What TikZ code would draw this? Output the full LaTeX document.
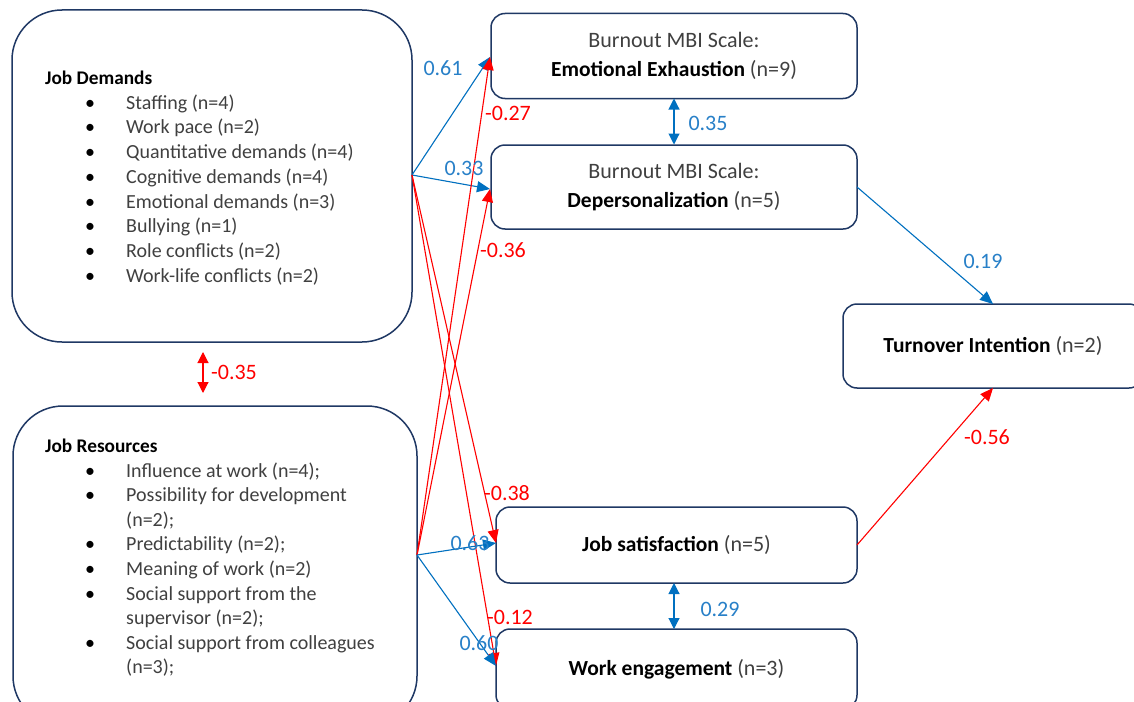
\documentclass[tikz,border=0pt]{standalone}
\usepackage{fontspec}
\setmainfont{Carlito}
\usetikzlibrary{arrows.meta}
\definecolor{navy}{RGB}{31,56,100}
\definecolor{lineblue}{RGB}{0,112,192}
\definecolor{txtblue}{RGB}{40,128,200}
\definecolor{txtred}{RGB}{255,0,0}
\definecolor{txtgray}{RGB}{64,64,64}
\tikzset{
  txt/.style={font=\fontsize{20}{25}\selectfont},
  boxtxt/.style={font=\fontsize{21.5}{29}\selectfont},
  labtxt/.style={font=\fontsize{22}{26}\selectfont},
  box/.style={draw=navy, line width=1.5pt, rounded corners=14pt, inner sep=0pt, align=center, text=black, boxtxt},
  bigbox/.style={box, rounded corners=50pt},
  posarrow/.style={-{Triangle[length=13pt,width=11pt]}, draw=lineblue, line width=1.1pt},
  negarrow/.style={-{Triangle[length=13pt,width=11pt]}, draw=red, line width=1.1pt},
  posdbl/.style={{Triangle[length=11pt,width=11pt]}-{Triangle[length=11pt,width=11pt]}, draw=lineblue, line width=1.1pt},
  negdbl/.style={{Triangle[length=11pt,width=11pt]}-{Triangle[length=11pt,width=11pt]}, draw=red, line width=1.1pt},
  blab/.style={labtxt, text=txtblue, inner sep=0pt},
  rlab/.style={labtxt, text=txtred, inner sep=0pt},
  item/.style={txt, text=txtgray, anchor=base west, inner sep=0pt},
  bul/.style={txt, text=black, anchor=base, inner sep=0pt},
  head/.style={font=\fontsize{19.3}{25}\selectfont\bfseries, text=black, anchor=base west, inner sep=0pt},
}
\newcommand{\gr}[1]{{\color{txtgray}\fontsize{22}{29}\selectfont #1}}
\begin{document}
\begin{tikzpicture}[x=1pt,y=-1pt]
\path[use as bounding box, clip] (0,0) rectangle (1134,701);
\fill[white] (0,0) rectangle (1134,701);

% boxes
\node[bigbox, minimum width=400pt, minimum height=332pt] (jd) at (212,176) {};
\node[bigbox, minimum width=404pt, minimum height=320pt] (jr) at (215,566) {};
\node[box, minimum width=366pt, minimum height=85pt] (ee) at (674,56)
  {\gr{Burnout MBI Scale:}\\\textbf{Emotional Exhaustion} \gr{(n=9)}};
\node[box, minimum width=366pt, minimum height=84pt] (dp) at (674,187)
  {\gr{Burnout MBI Scale:}\\\textbf{Depersonalization} \gr{(n=5)}};
\node[box, minimum width=300pt, minimum height=84pt] (to) at (993,346)
  {\textbf{Turnover Intention} \gr{(n=2)}};
\node[box, minimum width=361pt, minimum height=76pt] (js) at (676.5,545)
  {\textbf{Job satisfaction} \gr{(n=5)}};
\node[box, minimum width=361pt, minimum height=80pt] (we) at (676.5,669)
  {\textbf{Work engagement} \gr{(n=3)}};

% Job demands list
\node[head] (jdh) at (45,84) {Job Demands};
\foreach \t [count=\k] in {Staffing (n=4), Work pace (n=2), Quantitative demands (n=4),
  Cognitive demands (n=4), Emotional demands (n=3), Bullying (n=1), Role conflicts (n=2),
  Work-life conflicts (n=2)} {
  \node[bul] (jdb\k) at (90,{84.5+24.7*\k}) {\textbullet};
  \node[item] (jdi\k) at (126,{84.5+24.7*\k}) {\t};
}

% Job resources list
\node[head] (jrh) at (45,452) {Job Resources};
\foreach \t/\b [count=\k] in {{Influence at work (n=4);}/1, {Possibility for development}/1,
  {(n=2);}/0, {Predictability (n=2);}/1, {Meaning of work (n=2)}/1,
  {Social support from the}/1, {supervisor (n=2);}/0,
  {Social support from colleagues}/1, {(n=3);}/0} {
  \ifnum\b=1 \node[bul] (jrb\k) at (90,{452.5+24.6*\k}) {\textbullet};\fi
  \node[item] (jri\k) at (126,{452.5+24.6*\k}) {\t};
}

% connection points
\coordinate (jdout) at (412,175);
\coordinate (jrout) at (417,555);
\coordinate (eein) at (490,57);
\coordinate (dpin) at (490,189);
\coordinate (jsin) at (496,543);
\coordinate (wein) at (496,666);
\coordinate (dpout) at (857,187);
\coordinate (jsout) at (857,545);
\coordinate (toin1) at (993,304);
\coordinate (toin2) at (993,388);

% arrows
\draw[posarrow] (jdout) -- (eein);
\draw[posarrow] (jdout) -- (dpin);
\draw[negarrow] (jdout) -- (jsin);
\draw[negarrow] (jdout) -- (wein);
\draw[negarrow] (jrout) -- (eein);
\draw[negarrow] (jrout) -- (dpin);
\draw[posarrow] (jrout) -- (jsin);
\draw[posarrow] (jrout) -- (wein);
\draw[posarrow] (dpout) -- (toin1);
\draw[negarrow] (jsout) -- (toin2);

\coordinate (ab1) at (674,98.5);
\coordinate (ab2) at (674,144.5);
\draw[posdbl] (ab1) -- (ab2);
\coordinate (ab3) at (674,583);
\coordinate (ab4) at (674,629);
\draw[posdbl] (ab3) -- (ab4);
\coordinate (ab5) at (203,352);
\coordinate (ab6) at (203,393);
\draw[negdbl] (ab5) -- (ab6);

% labels
\node[blab] (l1) at (443,68) {0.61};
\node[rlab] (l2) at (508,113) {-0.27};
\node[blab] (l3) at (464,168) {0.33};
\node[rlab] (l4) at (503,250) {-0.36};
\node[rlab] (l5) at (507,493) {-0.38};
\node[blab] (l6) at (470,543) {0.63};
\node[rlab] (l7) at (510,617) {-0.12};
\node[blab] (l8) at (479,643) {0.60};
\node[blab] (l9) at (708,123) {0.35};
\node[blab] (l10) at (720,609) {0.29};
\node[blab] (l11) at (983,261) {0.19};
\node[rlab] (l12) at (987,437) {-0.56};
\node[rlab] (l13) at (234,372) {-0.35};
\end{tikzpicture}
\end{document}
